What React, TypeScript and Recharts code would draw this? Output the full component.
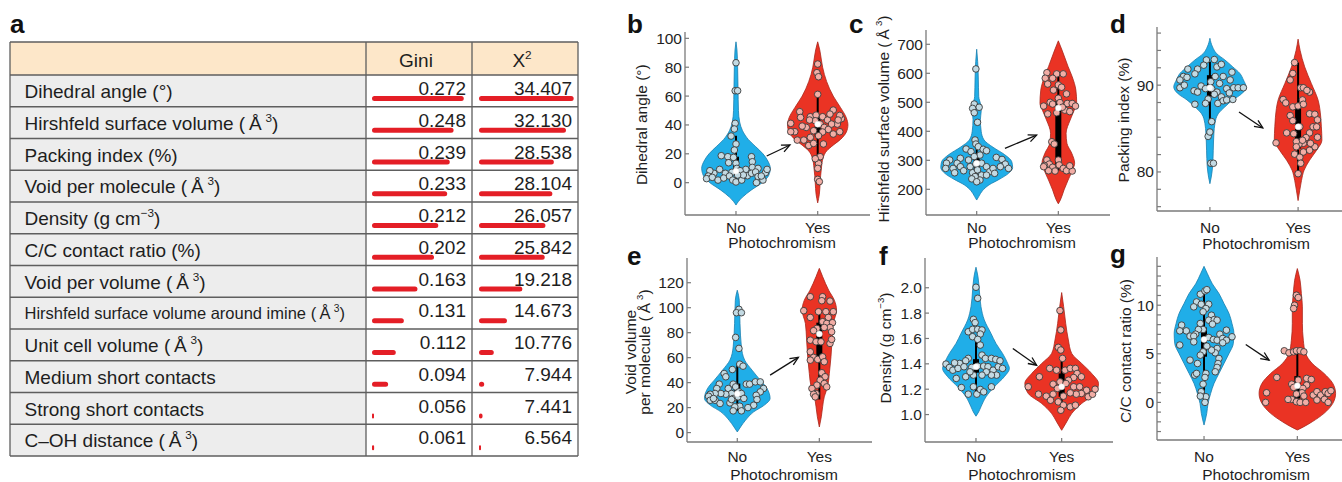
import React from 'react';
import { ComposedChart, Area, Scatter, XAxis, YAxis, ReferenceLine, ReferenceDot, BarChart, Bar } from 'recharts';

const FONT = '"Liberation Sans", Arial, Helvetica, sans-serif';
const TXT = '#1e1e1e';
const AXIS = '#7a7a7a';
const BLUE = '#20AEE8';
const BLUE_EDGE = '#1b7fae';
const RED = '#EA3324';
const RED_EDGE = '#a8261b';
const BLUE_PT = '#C3DAE3';
const RED_PT = '#F2ADA5';
const BAR_RED = '#E41E26';

// ---------------- Table (panel a) ----------------
const tableRowLabels = [
  'Dihedral angle (°)',
  'Hirshfeld surface volume (\u2009Å\u2009{3})',
  'Packing index (%)',
  'Void per molecule (\u2009Å\u2009{3})',
  'Density (g cm{\u22123})',
  'C/C contact ratio (%)',
  'Void per volume (\u2009Å\u2009{3})',
  'Hirshfeld surface volume around imine (\u2009Å\u2009{3})',
  'Unit cell volume (\u2009Å\u2009{3})',
  'Medium short contacts',
  'Strong short contacts',
  'C\u2013OH distance (\u2009Å\u2009{3})',
];
const giniValues = [0.272, 0.248, 0.239, 0.233, 0.212, 0.202, 0.163, 0.131, 0.112, 0.094, 0.056, 0.061];
const chi2Values = [34.407, 32.13, 28.538, 28.104, 26.057, 25.842, 19.218, 14.673, 10.776, 7.944, 7.441, 6.564];
const giniLabels = ['0.272', '0.248', '0.239', '0.233', '0.212', '0.202', '0.163', '0.131', '0.112', '0.094', '0.056', '0.061'];
const chi2Labels = ['34.407', '32.130', '28.538', '28.104', '26.057', '25.842', '19.218', '14.673', '10.776', '7.944', '7.441', '6.564'];

// ---------------- Violin panels ----------------
type Pair = [number, number];

// b: Dihedral angle
const bTicks = [0, 20, 40, 60, 80, 100];
const bNoProfile: Pair[] = [[97.6,0],[92,0.012],[80,0.02],[65,0.025],[50,0.03],[42,0.045],[36,0.08],[30,0.15],[25,0.24],[20,0.33],[15,0.39],[10,0.42],[5,0.4],[0,0.32],[-5,0.19],[-10,0.08],[-13,0.03],[-15.5,0]];
const bYesProfile: Pair[] = [[97.6,0],[92,0.025],[85,0.045],[80,0.06],[70,0.11],[60,0.19],[52,0.28],[45,0.35],[40,0.37],[35,0.35],[30,0.28],[26,0.19],[22,0.11],[17,0.065],[10,0.045],[0,0.03],[-8,0.02],[-14,0]];
const bNoPoints: Pair[] = [[0,83.1],[-0.01,63.7],[0.02,63.7],[-0.01,41.1],[-0.02,37.2],[-0.06,32.3],[0,26.8],[-0.02,22.6],[-0.18,18.7],[-0.1,18],[-0.03,17.5],[0,13.4],[0.01,9.9],[0.19,18],[0.2,14.5],[0.2,10.6],[0.27,9.9],[0.12,9.2],[0.05,8.3],[-0.05,7.2],[-0.13,6.5],[-0.2,9.2],[-0.27,6.5],[-0.32,8.3],[-0.34,4.6],[-0.36,2.8],[-0.29,3.7],[-0.22,1.8],[-0.15,3.2],[-0.08,4.6],[-0.04,1.8],[0,0.5],[0.07,1.8],[0.14,4.8],[0.19,6.5],[0.24,7.4],[0.27,4.2],[0.33,1.8],[0.36,6.9],[0.38,9.2],[0.31,4.6],[0.25,0],[0.09,5.3],[0.02,5.3],[-0.09,13.8]];
const bYesPoints: Pair[] = [[0,82.2],[-0.01,76.2],[0.01,73.4],[0,61.2],[-0.22,49.2],[-0.33,41.1],[-0.28,35.3],[-0.33,35.3],[-0.17,29.5],[-0.11,25.8],[-0.05,27.2],[-0.21,45.2],[-0.09,45.7],[-0.02,46.8],[0.06,45.7],[-0.03,42.9],[0.03,40.6],[0.08,38.3],[0.13,36.9],[0.19,33.7],[0.27,35.3],[0.24,40.6],[0.29,44.3],[0.27,46.6],[0.12,43.4],[0.06,35.1],[0.01,32.5],[-0.05,36],[-0.09,31.4],[-0.14,38.3],[-0.19,39.2],[0.19,50.3],[0.17,40.6],[0.07,26.8],[0.03,18],[0.01,13.4],[0,9.9],[0,2.3],[0.02,0.7],[-0.03,16.6],[0.15,47.5],[0.25,43.4],[-0.25,29.5],[-0.1,43.4]];
const bNoBox = [0, 6, 8, 18, 32.5];
const bYesBox = [18.5, 32, 40.5, 47, 60];
const bArrow = [1.376, 18.5, 1.66, 26.1];

// c: Hirshfeld surface volume
const cTicks = [200, 300, 400, 500, 600, 700];
const cNoProfile: Pair[] = [[683,0],[640,0.012],[580,0.02],[520,0.025],[490,0.05],[470,0.055],[440,0.045],[400,0.055],[370,0.09],[345,0.2],[320,0.34],[295,0.43],[275,0.44],[255,0.39],[235,0.28],[215,0.15],[195,0.07],[175,0.025],[163,0]];
const cYesProfile: Pair[] = [[712,0],[680,0.045],[623,0.12],[588,0.17],[542,0.215],[496,0.225],[473,0.195],[439,0.145],[393,0.095],[359,0.105],[324,0.165],[290,0.2],[267,0.175],[232,0.12],[198,0.07],[163,0.025],[150,0]];
const cNoPoints: Pair[] = [[-0.01,615],[-0.03,494],[0.03,483],[-0.05,479],[-0.03,464],[0.01,431],[-0.02,370],[-0.01,356],[-0.13,339],[-0.07,330],[0.02,347],[0.08,338],[0.12,333],[0.04,318],[-0.03,313],[-0.1,301],[-0.2,307],[-0.24,290],[-0.33,301],[-0.37,290],[-0.38,272],[-0.29,272],[-0.27,257],[-0.2,278],[-0.16,264],[-0.08,278],[-0.05,257],[-0.01,287],[0.01,267],[0.06,249],[0.04,232],[-0.02,244],[0.06,290],[0.12,278],[0.16,261],[0.2,272],[0.24,310],[0.31,303],[0.35,287],[0.39,272],[0.29,278],[0.22,255],[0.12,249],[-0.06,236],[0,226]];
const cYesPoints: Pair[] = [[-0.14,602],[-0.02,598],[0.06,598],[-0.07,583],[-0.16,583],[0,560],[0.04,552],[-0.13,563],[-0.06,542],[0.1,529],[0,514],[-0.1,500],[-0.18,487],[-0.07,494],[0.02,499],[0.11,496],[0.17,496],[0.21,487],[0.08,473],[0.14,468],[0.05,483],[-0.02,464],[-0.13,460],[-0.08,364],[-0.05,356],[-0.14,301],[-0.11,287],[-0.07,276],[-0.17,282],[0,301],[0.01,284],[0.06,272],[0.1,264],[0.17,263],[0.14,281],[-0.04,263],[-0.12,264],[-0.18,278]];
const cNoBox = [232, 267, 290, 314, 379];
const cYesBox = [264, 285, 480, 505, 592];
const cArrow = [1.346, 341, 1.734, 387];

// d: Packing index
const dTicks = [76, 78, 80, 82, 84, 86, 88, 90, 92, 94, 96];
const dLabelTicks = [80, 90];
const dNoProfile: Pair[] = [[95.4,0],[94.4,0.03],[93.65,0.075],[92.9,0.17],[92.1,0.26],[91.35,0.34],[90.6,0.38],[89.8,0.41],[89,0.36],[88.3,0.26],[87.5,0.17],[86.7,0.094],[85.6,0.057],[84.4,0.045],[82.5,0.038],[80.6,0.03],[79.4,0.015],[78.65,0]];
const dYesProfile: Pair[] = [[95.3,0],[94,0.023],[92.1,0.075],[90.2,0.15],[88.3,0.226],[86.3,0.257],[85.2,0.264],[83.65,0.27],[82.5,0.21],[81.35,0.13],[80.2,0.068],[79,0.038],[77.9,0.019],[76.7,0]];
const dNoPoints: Pair[] = [[-0.04,92.9],[0.05,92.95],[-0.07,92.3],[-0.14,91.85],[-0.25,91.85],[-0.17,91.3],[-0.3,91],[-0.34,90.6],[-0.34,89.7],[-0.29,90],[-0.26,90.9],[-0.18,89.35],[-0.14,89.2],[-0.17,87.8],[-0.1,89.9],[-0.05,89.6],[0.01,90.4],[0.02,89.6],[0.06,91],[0.08,92.1],[0.13,92.4],[0.15,91],[0.11,90.2],[0.08,89.2],[0.13,88.65],[0.09,87.9],[0.05,88.95],[-0.02,88.4],[-0.05,87.9],[0.23,90.6],[0.27,89.7],[0.32,89.7],[0.38,89.7],[0.25,91.5],[0.19,89.6],[0.22,89.1],[0.15,88.2],[0.19,88.3],[0.26,88.35],[0.02,85.8],[-0.02,84.1],[0,84.6],[0.01,81],[0.04,81]];
const dYesPoints: Pair[] = [[-0.04,92.6],[-0.06,91.35],[-0.09,90.6],[0.03,89.7],[0.06,89.7],[0.13,89.2],[0.1,89.4],[0.05,88.3],[-0.17,88.35],[-0.14,87.95],[-0.06,87.5],[0,87.6],[-0.09,86.5],[0.06,87.8],[0.13,86.7],[0.19,86.65],[0.22,86],[0.17,85.2],[0.21,85.2],[0.13,84.5],[0.09,83.96],[0.22,84],[0.19,82.9],[0.14,83.3],[0.06,83.3],[0.01,83.2],[-0.02,83.5],[-0.06,85.9],[0.02,85.2],[-0.05,84.4],[-0.13,84.5],[-0.25,83.35],[-0.04,82.05],[0.02,81.7],[0.03,81],[0,79.8],[0.05,83.65],[0.13,82.5],[0.06,82.3],[-0.02,82.9]];
const dNoBox = [85.9, 88.65, 89.7, 91.15, 92.7];
const dYesBox = [79.7, 82.7, 85.2, 87.8, 92.6];
const dArrow = [1.33, 86.9, 1.6, 85.07];

// e: Void volume per molecule
const eTicks = [0, 20, 40, 60, 80, 100, 120];
const eNoProfile: Pair[] = [[114,0],[106,0.024],[87.4,0.033],[68.7,0.05],[58,0.09],[50,0.18],[42,0.28],[36.6,0.35],[31.3,0.39],[27.3,0.4],[22,0.33],[16.6,0.2],[9.9,0.1],[4.5,0.04],[0.5,0]];
const eYesProfile: Pair[] = [[131.5,0],[124.9,0.04],[114,0.114],[106,0.183],[98,0.21],[87.4,0.17],[74,0.155],[60.7,0.142],[47.3,0.122],[36.6,0.1],[28.6,0.06],[20.6,0.04],[12.6,0.024],[4.5,0]];
const eNoPoints: Pair[] = [[0.02,98.7],[-0.01,96],[0.05,96],[-0.02,76.2],[0.02,67.4],[0.03,54.8],[0.07,53.2],[-0.06,50.5],[-0.16,47.3],[-0.14,44.7],[-0.22,38.8],[-0.25,35.3],[-0.11,35.3],[-0.05,38.8],[-0.02,36.6],[0.02,32.6],[-0.07,31.3],[-0.14,30.7],[-0.2,31.3],[-0.27,31.3],[-0.33,30.7],[-0.35,29.1],[-0.33,25.9],[-0.27,25.9],[-0.29,27.3],[-0.21,23.3],[-0.09,23.8],[-0.05,27.3],[0.01,28.6],[0.05,31.3],[0.11,38.8],[0.15,38.8],[0.22,40.6],[0.28,40.6],[0.32,35.3],[0.28,32.6],[0.23,29.9],[0.24,26.5],[0.2,21.9],[0.13,20],[0.03,21.1],[-0.03,20.6],[-0.05,17.4],[0.05,17.4],[-0.07,26.5],[0.08,27.3]];
const eYesPoints: Pair[] = [[-0.11,108.8],[0.04,108.8],[0.03,105.6],[0.13,105.3],[-0.19,97.6],[-0.11,92.2],[-0.01,96.8],[0.08,96.8],[0.17,96.8],[0.11,92.2],[0.04,88.8],[0.09,87.4],[0.16,88],[0.13,84.2],[0.06,84.2],[-0.03,83.4],[-0.07,81.6],[-0.11,74],[-0.04,72.7],[0.02,72.7],[0.13,71.4],[0.15,74.6],[-0.11,64.7],[-0.07,60.2],[-0.02,58.6],[0.04,60.7],[-0.11,58],[0.06,56.7],[0.03,47.9],[0.07,44.7],[0.01,42],[-0.03,38],[0.06,39.3],[0.09,36.6],[-0.09,35.3],[-0.04,31.3],[-0.07,30.7],[-0.05,28.6],[0.15,80.7]];
const eNoBox = [17.4, 26, 31, 39.3, 55.3];
const eYesBox = [26.5, 57, 79, 88, 98.5];
const eArrow = [1.4, 46, 1.744, 60.2];

// f: Density
const fTicks = [1.0, 1.2, 1.4, 1.6, 1.8, 2.0];
const fNoProfile: Pair[] = [[2.162,0],[2.088,0.023],[1.983,0.039],[1.851,0.058],[1.746,0.097],[1.64,0.175],[1.561,0.233],[1.482,0.31],[1.403,0.37],[1.364,0.39],[1.298,0.33],[1.219,0.214],[1.14,0.117],[1.061,0.058],[1.021,0.031],[0.987,0]];
const fYesProfile: Pair[] = [[1.962,0],[1.851,0.023],[1.719,0.047],[1.588,0.078],[1.482,0.117],[1.403,0.233],[1.324,0.35],[1.245,0.43],[1.166,0.39],[1.087,0.233],[1.008,0.117],[0.942,0.058],[0.876,0]];
const fNoPoints: Pair[] = [[0,2.004],[0.02,1.917],[-0.03,1.751],[-0.01,1.725],[-0.09,1.653],[-0.04,1.672],[0.02,1.672],[0.07,1.667],[0.05,1.635],[-0.04,1.614],[0.02,1.593],[0.05,1.548],[0.07,1.469],[0.11,1.443],[0.18,1.443],[0.23,1.435],[-0.09,1.443],[-0.12,1.424],[-0.19,1.403],[-0.25,1.408],[-0.35,1.398],[-0.31,1.371],[-0.27,1.35],[-0.21,1.364],[-0.14,1.377],[-0.05,1.372],[0.02,1.382],[0.09,1.382],[0.14,1.377],[0.2,1.35],[0.26,1.377],[0.28,1.424],[0.31,1.364],[0.24,1.311],[0.18,1.311],[0.12,1.337],[0.07,1.311],[-0.03,1.311],[-0.07,1.337],[-0.12,1.298],[-0.23,1.285],[-0.17,1.213],[-0.03,1.219],[0.01,1.161],[-0.09,1.161],[0.05,1.198],[0.18,1.219],[0.09,1.179]];
const fYesPoints: Pair[] = [[-0.02,1.82],[-0.01,1.667],[-0.04,1.53],[-0.01,1.509],[0.01,1.443],[-0.14,1.364],[-0.26,1.298],[-0.39,1.219],[-0.06,1.35],[0.04,1.35],[0.1,1.364],[0.16,1.364],[0.18,1.324],[0.23,1.298],[0.14,1.292],[0.08,1.271],[-0.02,1.258],[-0.1,1.24],[0.05,1.245],[0.14,1.219],[0.21,1.219],[0.29,1.192],[0.31,1.14],[0.23,1.166],[0.17,1.161],[0.1,1.171],[0.02,1.145],[-0.05,1.206],[-0.1,1.161],[-0.18,1.145],[-0.13,1.113],[-0.04,1.1],[0.02,1.074],[-0.01,1.034],[0.1,1.061],[0.16,1.074],[-0.27,1.161],[0.36,1.16],[0.39,1.2]];
const fNoBox = [1.153, 1.33, 1.377, 1.437, 1.609];
const fYesBox = [1.047, 1.14, 1.219, 1.324, 1.443];
const fArrow = [1.43, 1.521, 1.708, 1.389];

// g: C/C contact ratio
const gTicks = [-3, -2, -1, 0, 1, 2, 3, 4, 5, 6, 7, 8, 9, 10, 11, 12, 13, 14];
const gLabelTicks = [0, 5, 10];
const gNoProfile: Pair[] = [[14,0],[13.25,0.036],[12.2,0.089],[11.2,0.16],[10.17,0.214],[9.14,0.268],[8.1,0.3],[7.1,0.32],[6.06,0.314],[5.03,0.268],[4,0.214],[2.98,0.16],[1.95,0.107],[0.92,0.071],[-0.1,0.043],[-1.13,0.029],[-1.8,0.014],[-2.33,0]];
const gYesProfile: Pair[] = [[13.77,0],[12.57,0.029],[11.2,0.043],[9.83,0.054],[8.12,0.054],[6.4,0.064],[5.03,0.089],[4,0.16],[2.98,0.286],[1.95,0.38],[0.92,0.41],[-0.1,0.38],[-1.13,0.286],[-1.99,0.16],[-2.5,0.07],[-2.84,0]];
const gNoPoints: Pair[] = [[-0.04,11.13],[0.01,11.47],[0.03,11.6],[-0.08,10.34],[-0.11,9.83],[-0.03,10.1],[0.05,10.1],[0.02,9.66],[-0.01,9.32],[0.08,8.97],[0.05,8.46],[0.11,8.53],[0.14,8.46],[0.09,8.05],[-0.04,8.12],[-0.01,7.5],[-0.06,7.5],[-0.09,7.02],[-0.19,7.36],[-0.24,7.95],[-0.26,7.36],[-0.15,6.82],[-0.11,6.82],[-0.26,5.9],[-0.11,6.23],[0.05,6.68],[0.1,6.47],[0.14,6.4],[0.17,7.02],[0.2,6.58],[0.24,7.43],[0.3,6.75],[0.24,6.4],[0.2,6.13],[0.14,5.55],[0.12,5.1],[0.08,5.38],[0.03,5.79],[-0.01,5.2],[-0.04,4.86],[-0.15,4.35],[-0.07,4],[0.16,4.52],[0.15,4],[0.14,3.6],[0.12,3.15],[-0.1,2.81],[-0.08,2.98],[0.02,2.98],[0.01,2.57],[-0.01,1.88],[-0.03,1.1],[0.02,0.58],[-0.04,0.65],[0.01,0]];
const gYesPoints: Pair[] = [[-0.01,11.03],[0.01,10.79],[-0.03,10],[-0.04,9.66],[-0.14,5.31],[-0.09,5.1],[-0.04,5.2],[-0.01,5.31],[0.03,5.31],[0.07,5.2],[-0.22,2.57],[-0.06,1.88],[-0.04,1.54],[0.01,2.29],[0.1,2.47],[0.15,2.36],[0.1,1.78],[0.06,1.44],[0.05,0.99],[0.07,0.65],[-0.01,0.86],[-0.06,0.31],[-0.1,0.31],[-0.01,0.07],[0.03,0],[0.09,0],[0.17,0.75],[0.21,1.1],[0.25,0.75],[0.3,1.1],[0.33,0.92],[0.36,1.2],[0.29,0.31],[0.33,0],[0.21,0.24],[-0.33,0.99],[-0.34,0]];
const gNoBox = [0.4, 4.7, 6.47, 7.7, 11.7];
const gYesBox = [0.07, 0.4, 1.7, 2.7, 5.3];
const gArrow = [1.447, 5.96, 1.697, 4.35];

type PanelCfg = {
  plotLeft: number; plotTop: number; plotBottom: number; plotRight: number;
  xDomain: [number, number]; yDomain: [number, number];
  yTicks: number[]; yFmt: (v: number) => string; xTickMargin: number;
  noProfile: Pair[]; yesProfile: Pair[]; noPts: Pair[]; yesPts: Pair[];
  noBox: number[]; yesBox: number[]; arrow: number[];
};

const intFmt = (v: number) => String(Math.round(v));

const panels: PanelCfg[] = [
  { plotLeft: 685, plotTop: 32, plotBottom: 215, plotRight: 870, xDomain: [0.376, 2.64], yDomain: [-22.4, 104.4], yTicks: bTicks, yFmt: intFmt, xTickMargin: 11,
    noProfile: bNoProfile, yesProfile: bYesProfile, noPts: bNoPoints, yesPts: bYesPoints, noBox: bNoBox, yesBox: bYesBox, arrow: bArrow },
  { plotLeft: 926, plotTop: 30, plotBottom: 215, plotRight: 1110, xDomain: [0.379, 2.633], yDomain: [111.4, 749.3], yTicks: cTicks, yFmt: intFmt, xTickMargin: 11,
    noProfile: cNoProfile, yesProfile: cYesProfile, noPts: cNoPoints, yesPts: cYesPoints, noBox: cNoBox, yesBox: cYesBox, arrow: cArrow },
  { plotLeft: 1157, plotTop: 27, plotBottom: 211, plotRight: 1351, xDomain: [0.4, 2.6], yDomain: [75.5, 96.7], yTicks: dTicks, yFmt: (v) => (dLabelTicks.includes(v) ? String(v) : ''), xTickMargin: 15,
    noProfile: dNoProfile, yesProfile: dYesProfile, noPts: dNoPoints, yesPts: dYesPoints, noBox: dNoBox, yesBox: dYesBox, arrow: dArrow },
  { plotLeft: 687, plotTop: 258, plotBottom: 442, plotRight: 872, xDomain: [0.387, 2.642], yDomain: [-7.54, 139.8], yTicks: eTicks, yFmt: intFmt, xTickMargin: 13,
    noProfile: eNoProfile, yesProfile: eYesProfile, noPts: eNoPoints, yesPts: eYesPoints, noBox: eNoBox, yesBox: eYesBox, arrow: eArrow },
  { plotLeft: 925, plotTop: 258, plotBottom: 442, plotRight: 1113, xDomain: [0.405, 2.599], yDomain: [0.7836, 2.2346], yTicks: fTicks, yFmt: (v) => v.toFixed(1), xTickMargin: 13,
    noProfile: fNoProfile, yesProfile: fYesProfile, noPts: fNoPoints, yesPts: fYesPoints, noBox: fNoBox, yesBox: fYesBox, arrow: fArrow },
  { plotLeft: 1157, plotTop: 257, plotBottom: 440, plotRight: 1344, xDomain: [0.496, 2.5], yDomain: [-3.87, 14.96], yTicks: gTicks, yFmt: (v) => (gLabelTicks.includes(v) ? String(v) : ''), xTickMargin: 14.5,
    noProfile: gNoProfile, yesProfile: gYesProfile, noPts: gNoPoints, yesPts: gYesPoints, noBox: gNoBox, yesBox: gYesBox, arrow: gArrow },
];

// ---------------- helpers ----------------
function SupText({ s, fs }: { s: string; fs: number }) {
  const parts = s.split(/(\{[^}]*\})/).filter((p) => p.length > 0);
  let raised = false;
  return (
    <>
      {parts.map((p, i) => {
        if (p.startsWith('{')) {
          raised = true;
          return (
            <tspan key={i} fontSize={fs * 0.62} dy={-fs * 0.42}>
              {p.slice(1, -1)}
            </tspan>
          );
        }
        const dy = raised ? fs * 0.42 : 0;
        raised = false;
        return (
          <tspan key={i} dy={dy}>
            {p}
          </tspan>
        );
      })}
    </>
  );
}

const ArrowShape = (props: any) => {
  const { x1, y1, x2, y2 } = props;
  const ang = Math.atan2(y2 - y1, x2 - x1);
  const L = 9;
  const a = 0.42;
  const p1 = [x2 - L * Math.cos(ang - a), y2 - L * Math.sin(ang - a)];
  const p2 = [x2 - L * Math.cos(ang + a), y2 - L * Math.sin(ang + a)];
  return (
    <g>
      <line x1={x1} y1={y1} x2={x2} y2={y2} stroke="#111" strokeWidth={1.3} />
      <polyline points={`${p1[0]},${p1[1]} ${x2},${y2} ${p2[0]},${p2[1]}`} fill="none" stroke="#111" strokeWidth={1.3} />
    </g>
  );
};

function ViolinChart({ cfg }: { cfg: PanelCfg }) {
  const YW = 60;
  const MT = 6;
  const XH = 48;
  const left = cfg.plotLeft - YW;
  const top = cfg.plotTop - MT;
  const width = cfg.plotRight - left;
  const height = cfg.plotBottom - cfg.plotTop + MT + XH;
  const groups = [
    { c: 1, profile: cfg.noProfile, pts: cfg.noPts, box: cfg.noBox, fill: BLUE, edge: BLUE_EDGE, pt: BLUE_PT },
    { c: 2, profile: cfg.yesProfile, pts: cfg.yesPts, box: cfg.yesBox, fill: RED, edge: RED_EDGE, pt: RED_PT },
  ];
  const tickStyle = { fill: TXT, fontSize: 15.5, fontFamily: FONT };
  return (
    <div style={{ position: 'absolute', left, top, width, height }}>
      <ComposedChart layout="vertical" width={width} height={height} margin={{ top: MT, right: 0, bottom: 0, left: 0 }}>
        <XAxis
          type="number"
          dataKey="x"
          domain={cfg.xDomain}
          allowDataOverflow
          ticks={[1, 2]}
          interval={0}
          tickFormatter={(v: number) => (v === 1 ? 'No' : 'Yes')}
          height={XH}
          tickSize={-4}
          tickMargin={cfg.xTickMargin}
          axisLine={{ stroke: AXIS, strokeWidth: 1.3 }}
          tickLine={{ stroke: AXIS, strokeWidth: 1.2 }}
          tick={tickStyle}
        />
        <YAxis
          type="number"
          dataKey="v"
          domain={cfg.yDomain}
          allowDataOverflow
          reversed
          ticks={cfg.yTicks}
          interval={0}
          tickFormatter={cfg.yFmt}
          width={YW}
          tickSize={-4}
          tickMargin={7}
          axisLine={{ stroke: AXIS, strokeWidth: 1.3 }}
          tickLine={{ stroke: AXIS, strokeWidth: 1.2 }}
          tick={tickStyle}
        />
        {groups.map((g) => (
          <Area
            key={'a' + g.c}
            data={g.profile.map(([v, w]) => ({ v, r: [g.c - w, g.c + w] }))}
            dataKey="r"
            type="monotone"
            fill={g.fill}
            fillOpacity={1}
            stroke={g.edge}
            strokeWidth={0.8}
            dot={false}
            activeDot={false}
            isAnimationActive={false}
          />
        ))}
        {groups.map((g) => (
          <Scatter
            key={'s' + g.c}
            data={g.pts.map(([dx, v]) => ({ x: g.c + dx, v }))}
            isAnimationActive={false}
            shape={(p: any) => <circle cx={p.cx} cy={p.cy} r={3.3} fill={g.pt} stroke="#3b3b3b" strokeWidth={0.9} />}
          />
        ))}
        {groups.map((g) => (
          <ReferenceLine key={'w' + g.c} segment={[{ x: g.c, y: g.box[0] }, { x: g.c, y: g.box[4] }]} stroke="#000" strokeWidth={2} />
        ))}
        {groups.map((g) => (
          <ReferenceLine key={'b' + g.c} segment={[{ x: g.c, y: g.box[1] }, { x: g.c, y: g.box[3] }]} stroke="#000" strokeWidth={6} />
        ))}
        {groups.map((g) => (
          <ReferenceDot key={'m' + g.c} x={g.c} y={g.box[2]} r={3} fill="#fff" stroke="#ddd" strokeWidth={0.5} />
        ))}
        <ReferenceLine
          segment={[{ x: cfg.arrow[0], y: cfg.arrow[1] }, { x: cfg.arrow[2], y: cfg.arrow[3] }]}
          stroke="#111"
          shape={ArrowShape}
        />
      </ComposedChart>
    </div>
  );
}

// ---------------- Table ----------------
const TL = 10, TR = 578, TC1 = 366, TC2 = 472, TT = 42, HH = 33, RH = 31.75;
const ROWS_TOP = TT + HH;
const TB = ROWS_TOP + 12 * RH;

function TableSvg() {
  const lineCol = '#5e5e5e';
  return (
    <svg width={1342} height={482} style={{ position: 'absolute', left: 0, top: 0 }}>
      <rect x={TL} y={TT} width={TR - TL} height={HH} fill="#FDE7C9" />
      <rect x={TL} y={ROWS_TOP} width={TC1 - TL} height={12 * RH} fill="#EDEDED" />
      <rect x={TC1} y={ROWS_TOP} width={TR - TC1} height={12 * RH} fill="#FFFFFF" />
      {Array.from({ length: 14 }).map((_, i) => {
        const y = i === 0 ? TT : ROWS_TOP + (i - 1) * RH;
        return <line key={'h' + i} x1={TL} x2={TR} y1={y} y2={y} stroke={lineCol} strokeWidth={1.3} />;
      })}
      {[TL, TC1, TC2, TR].map((x, i) => (
        <line key={'v' + i} x1={x} x2={x} y1={TT} y2={TB} stroke={lineCol} strokeWidth={1.3} />
      ))}
      <g fontFamily={FONT} fill={TXT}>
        <text x={(TC1 + TC2) / 2 - 3} y={TT + 25} fontSize={19} textAnchor="middle">Gini</text>
        <text x={(TC2 + TR) / 2 - 3} y={TT + 25} fontSize={19} textAnchor="middle">
          <SupText s="X{2}" fs={19} />
        </text>
        {tableRowLabels.map((lab, i) => {
          const small = i === 7;
          const fs = small ? 16.5 : 19;
          return (
            <text key={'l' + i} x={24.5} y={ROWS_TOP + i * RH + (small ? 22 : 23)} fontSize={fs}>
              <SupText s={lab} fs={fs} />
            </text>
          );
        })}
        {giniLabels.map((t, i) => (
          <text key={'g' + i} x={TC2 - 6} y={ROWS_TOP + i * RH + 20} fontSize={19} textAnchor="end">{t}</text>
        ))}
        {chi2Labels.map((t, i) => (
          <text key={'c' + i} x={TR - 6} y={ROWS_TOP + i * RH + 20} fontSize={19} textAnchor="end">{t}</text>
        ))}
      </g>
    </svg>
  );
}

function TableBars({ values, domain, left, width }: { values: number[]; domain: [number, number]; left: number; width: number }) {
  const data = values.map((v, i) => ({ name: 'r' + i, value: v }));
  const h = 12 * RH;
  return (
    <div style={{ position: 'absolute', left, top: ROWS_TOP + 24 - RH / 2, width, height: h }}>
      <BarChart layout="vertical" width={width} height={h} data={data} margin={{ top: 0, right: 0, bottom: 0, left: 0 }} barCategoryGap={0}>
        <XAxis type="number" domain={domain} allowDataOverflow hide />
        <YAxis type="category" dataKey="name" hide />
        <Bar dataKey="value" barSize={5} fill={BAR_RED} radius={2.5} minPointSize={2} isAnimationActive={false} />
      </BarChart>
    </div>
  );
}

// ---------------- overlay texts ----------------
const letters: [string, number, number][] = [
  ['a', 10, 33], ['b', 627, 33], ['c', 849, 33], ['d', 1110, 33], ['e', 627, 265], ['f', 879, 265], ['g', 1110, 263],
];
const yLabels: [string, number, number][] = [
  ['Dihedral angle (°)', 641.5, 124.7],
  ['Hirshfeld surface volume (\u2009Å\u2009{3})', 883, 119],
  ['Packing index (%)', 1123, 120],
  ['Void volume', 630.5, 352],
  ['per molecule (\u2009Å\u2009{3})', 644, 352],
  ['Density (g cm{\u22123})', 885, 348],
  ['C/C contact ratio (%)', 1125, 351],
];
const xLabels: [number, number][] = [
  [782, 248], [1022, 248], [1256, 249], [784, 479.5], [1022, 479.5], [1256, 479.5],
];

function Overlay() {
  const fs = 15.5;
  return (
    <svg width={1342} height={482} style={{ position: 'absolute', left: 0, top: 0, pointerEvents: 'none' }}>
      <g fontFamily={FONT} fill="#111">
        {letters.map(([t, x, y]) => (
          <text key={t} x={x} y={y} fontSize={26} fontWeight="bold">{t}</text>
        ))}
      </g>
      <g fontFamily={FONT} fill={TXT} fontSize={fs}>
        {yLabels.map(([t, cx, cy], i) => (
          <text key={'y' + i} transform={`translate(${cx},${cy}) rotate(-90)`} y={5.5} textAnchor="middle">
            <SupText s={t} fs={fs} />
          </text>
        ))}
        {xLabels.map(([x, y], i) => (
          <text key={'x' + i} x={x} y={y} textAnchor="middle">Photochromism</text>
        ))}
      </g>
    </svg>
  );
}

export default function App() {
  return (
    <div style={{ position: 'absolute', left: 0, top: 0, width: 1342, height: 482, overflow: 'hidden', background: '#fff' }}>
      <TableSvg />
      <TableBars values={giniValues} domain={[0.056, 0.2725]} left={TC1 + 6.3} width={92} />
      <TableBars values={chi2Values} domain={[6.4, 34.5]} left={TC2 + 7.4} width={95} />
      {panels.map((p, i) => (
        <ViolinChart key={i} cfg={p} />
      ))}
      <Overlay />
    </div>
  );
}
